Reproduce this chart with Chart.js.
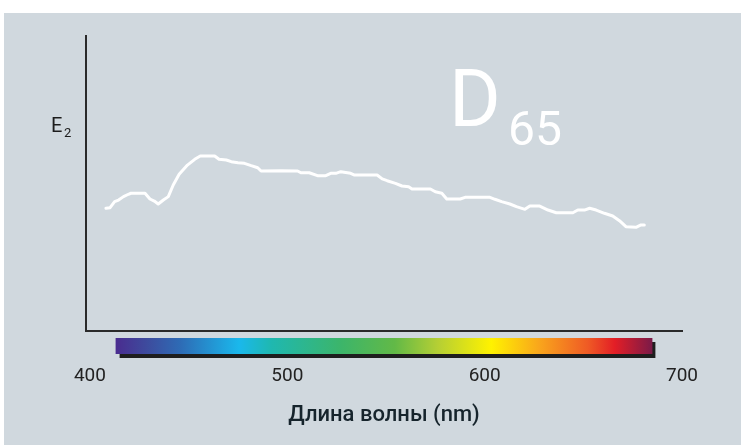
<!DOCTYPE html>
<html>
<head>
<meta charset="utf-8">
<script src="https://cdn.jsdelivr.net/npm/chart.js@4.4.1/dist/chart.umd.min.js"></script>
<style>
  html, body { margin: 0; padding: 0; background: #ffffff; }
  #wrap { position: relative; width: 741px; height: 445px; }
</style>
</head>
<body>
<div id="wrap"><canvas id="spd" width="741" height="445"></canvas></div>
<script>
// Relative spectral power of illuminant D65, traced as a polyline
const wavelengthNm = [
  408.1, 410.2, 412.5, 414.5, 417.0, 419.5, 420.8, 427.9, 430.4, 432.6,
  434.6, 437.2, 439.7, 442.2, 445.2, 449.4, 453.1, 455.9, 463.2, 465.4,
  469.1, 471.6, 475.0, 478.3, 481.7, 485.0, 486.7, 496.8, 505.2, 506.9,
  511.1, 515.3, 519.5, 522.0, 524.6, 527.1, 532.1, 533.8, 545.5, 548.1,
  550.6, 554.8, 558.1, 561.5, 563.2, 572.5, 575.0, 578.3, 580.8, 587.6,
  590.1, 602.7, 605.2, 608.6, 612.8, 616.1, 620.4, 622.9, 627.9, 632.1,
  636.3, 644.7, 647.2, 650.6, 653.2, 656.5, 660.7, 664.9, 668.3, 671.6,
  676.7, 679.2, 680.9
];
const irradiance = [
  83.2, 83.6, 87.7, 88.8, 91.1, 92.7, 93.4, 93.4, 89.5, 88.1,
  86.1, 88.8, 91.1, 99.0, 106.2, 112.5, 116.4, 118.6, 118.6, 116.4,
  115.9, 114.8, 114.1, 113.7, 112.1, 110.7, 108.5, 108.7, 108.5, 107.3,
  107.3, 105.3, 105.3, 106.9, 106.9, 108.0, 106.9, 105.8, 105.8, 103.1,
  101.9, 100.1, 98.3, 97.8, 96.3, 96.3, 94.4, 93.4, 89.5, 89.5,
  90.6, 90.6, 89.3, 87.7, 86.1, 84.3, 82.5, 84.7, 84.7, 82.0,
  80.2, 80.2, 82.0, 82.0, 83.2, 82.0, 79.8, 78.0, 74.8, 70.7,
  70.3, 71.9, 71.9
];
const tickWavelengths = [400, 500, 600, 700];

// Visible spectrum strip under the axis
const spectrumRange = [413, 685];
const spectrumStops = [
  [0.00, '#4a2c8f'], [0.06, '#3d4c9e'], [0.12, '#2e6bb5'], [0.23, '#1ab8ec'],
  [0.29, '#1fb8b0'], [0.42, '#3cb56a'], [0.52, '#62b947'], [0.60, '#b5cf34'],
  [0.70, '#fff200'], [0.79, '#f9a51c'], [0.88, '#ef5a25'], [0.93, '#e31e26'],
  [1.00, '#7a1a48']
];

const decor = {
  id: 'decor',
  beforeDraw(chart) {
    const ctx = chart.ctx;
    ctx.save();
    ctx.fillStyle = '#ffffff';
    ctx.fillRect(0, 0, chart.width, chart.height);
    ctx.fillStyle = '#d0d8de';
    ctx.fillRect(4, 13, chart.width - 4, chart.height - 13);
    ctx.restore();
  },
  afterDraw(chart) {
    const ctx = chart.ctx;
    const xs = chart.scales.x;
    const area = chart.chartArea;
    const x0 = xs.getPixelForValue(spectrumRange[0]);
    const x1 = xs.getPixelForValue(spectrumRange[1]);
    const top = area.bottom + 7;
    const h = 16;
    ctx.save();
    ctx.fillStyle = '#1e1e1e';
    ctx.fillRect(x0 + 4, top + 4, x1 - x0 - 1, h);
    const g = ctx.createLinearGradient(x0, 0, x1, 0);
    spectrumStops.forEach(s => g.addColorStop(s[0], s[1]));
    ctx.fillStyle = g;
    ctx.fillRect(x0, top, x1 - x0, h);

    // axis name on the left
    ctx.fillStyle = '#1c1c1c';
    ctx.textBaseline = 'alphabetic';
    ctx.font = '400 20px Roboto';
    ctx.fillText('E', 51, 132);
    ctx.font = '400 13px Roboto';
    ctx.fillText('2', 64, 137);

    // illuminant name
    ctx.fillStyle = '#ffffff';
    ctx.font = '400 79px Roboto';
    ctx.fillText('D', 449, 126);
    ctx.font = '400 48px Roboto';
    ctx.fillText('65', 508, 145);
    ctx.restore();
  }
};

new Chart(document.getElementById('spd'), {
  type: 'line',
  data: {
    datasets: [{
      data: wavelengthNm.map((w, i) => ({ x: w, y: irradiance[i] })),
      borderColor: '#ffffff',
      borderWidth: 3,
      pointRadius: 0,
      tension: 0,
      fill: false,
      borderJoinStyle: 'round',
      borderCapStyle: 'round'
    }]
  },
  options: {
    responsive: false,
    animation: false,
    devicePixelRatio: 1,
    layout: { padding: { left: 86, top: 36, right: 59, bottom: 0 } },
    plugins: { legend: { display: false }, tooltip: { enabled: false } },
    scales: {
      x: {
        type: 'linear',
        min: 398,
        max: 700,
        afterBuildTicks(scale) { scale.ticks = tickWavelengths.map(v => ({ value: v })); },
        afterFit(scale) { scale.height = 114; },
        grid: { display: false, drawTicks: false },
        border: { display: true, color: '#2a2a2a', width: 2 },
        ticks: {
          padding: 34,
          color: '#222222',
          font: { family: 'Roboto', size: 19 },
          maxRotation: 0
        },
        title: {
          display: true,
          text: 'Длина волны (nm)',
          color: '#16242c',
          font: { family: 'Roboto', size: 22, weight: '500' },
          padding: { top: 0, bottom: 16 }
        }
      },
      y: {
        min: 0,
        max: 200,
        afterFit(scale) { scale.width = 0; },
        grid: { display: false, drawTicks: false },
        border: { display: true, color: '#2a2a2a', width: 2 },
        ticks: { display: false }
      }
    }
  },
  plugins: [decor]
});
</script>
</body>
</html>
